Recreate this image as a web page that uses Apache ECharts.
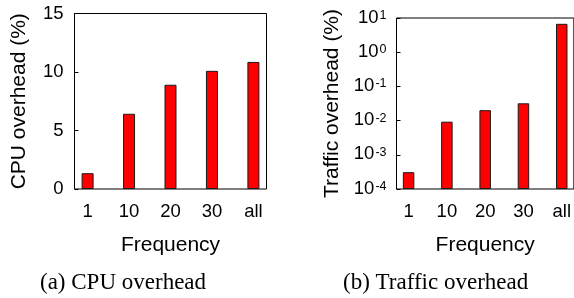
<!DOCTYPE html>
<html>
<head>
<meta charset="utf-8">
<script src="https://cdn.jsdelivr.net/npm/echarts@6/dist/echarts.min.js"></script>
<style>
html,body{margin:0;padding:0;background:#fff;}
#c{width:574px;height:298px;}
</style>
</head>
<body>
<div id="c"></div>
<script>
const categories = ['1', '10', '20', '30', 'all'];
const cpuOverhead = [1.35, 6.43, 8.91, 10.1, 10.86];
const trafficOverhead = [3.1e-4, 9.3e-3, 0.0202, 0.032, 6.76];
const cpuTicks = [0, 5, 10, 15];
const trafficTickExps = [-4, -3, -2, -1, 0, 1];

const FONT = 'Liberation Sans';
const chart = echarts.init(document.getElementById('c'), null, {renderer: 'canvas'});

function xAxisCfg(gridIndex) {
  return {
    type: 'value', gridIndex: gridIndex,
    min: -0.316, max: 4.316,
    axisLine: {show: false, onZero: false},
    axisTick: {show: false},
    splitLine: {show: false},
    axisLabel: {
      customValues: [0, 1, 2, 3, 4],
      formatter: v => categories[Math.round(v)],
      color: '#000', fontFamily: FONT, fontSize: 18.5, margin: 13
    },
    name: 'Frequency', nameLocation: 'middle', nameGap: 46,
    nameTextStyle: {color: '#000', fontFamily: FONT, fontSize: 21}
  };
}

const option = {
  animation: false,
  grid: [
    {left: 74.5, top: 13.5, width: 192, height: 175.5, show: true, borderColor: '#000', borderWidth: 1},
    {left: 396.5, top: 13.5, width: 180.5, height: 175.5, show: true, borderColor: '#000', borderWidth: 1}
  ],
  xAxis: [xAxisCfg(0), xAxisCfg(1)],
  yAxis: [
    {
      type: 'value', gridIndex: 0, min: 0, max: 15, interval: 5,
      axisLine: {show: false, onZero: false},
      axisTick: {show: true, inside: true, length: 4, lineStyle: {color: '#000'}},
      splitLine: {show: false},
      axisLabel: {color: '#000', fontFamily: FONT, fontSize: 18.5, margin: 11},
      name: 'CPU overhead (%)', nameLocation: 'middle', nameGap: 45,
      nameTextStyle: {color: '#000', fontFamily: FONT, fontSize: 21}
    },
    {
      type: 'log', gridIndex: 1, logBase: 10, min: 1e-4, max: 10, startValue: 1e-4,
      axisLine: {show: false, onZero: false},
      axisTick: {show: true, inside: true, length: 4, lineStyle: {color: '#000'}},
      minorTick: {show: false},
      splitLine: {show: false},
      axisLabel: {
        color: '#000', fontFamily: FONT, margin: 10,
        formatter: v => '{b|10}{s|' + Math.round(Math.log10(v)) + '}',
        rich: {
          b: {fontFamily: FONT, fontSize: 18.5, color: '#000', lineHeight: 18, padding: [8, 0, 0, 0], verticalAlign: 'bottom'},
          s: {fontFamily: FONT, fontSize: 12.5, color: '#000', lineHeight: 12, verticalAlign: 'top', padding: [0, 0, 0, 1]}
        }
      },
      name: 'Traffic overhead (%)', nameLocation: 'middle', nameGap: 54,
      nameTextStyle: {color: '#000', fontFamily: FONT, fontSize: 21}
    }
  ],
  series: [
    {
      type: 'bar', xAxisIndex: 0, yAxisIndex: 0, barWidth: 12,
      data: cpuOverhead.map((v, i) => [i, v]),
      itemStyle: {color: '#ff0000', borderColor: '#1a1a1a', borderWidth: 1}
    },
    {
      type: 'bar', xAxisIndex: 1, yAxisIndex: 1, barWidth: 11.5,
      data: trafficOverhead.map((v, i) => [i, v]),
      itemStyle: {color: '#ff0000', borderColor: '#1a1a1a', borderWidth: 1}
    }
  ],
  graphic: [
    {type: 'text', left: 40, top: 271, style: {text: '(a) CPU overhead', fontFamily: 'Liberation Serif', fontSize: 23, fill: '#000'}},
    {type: 'text', left: 343, top: 271, style: {text: '(b) Traffic overhead', fontFamily: 'Liberation Serif', fontSize: 23, fill: '#000'}}
  ]
};
chart.setOption(option);
</script>
</body>
</html>
